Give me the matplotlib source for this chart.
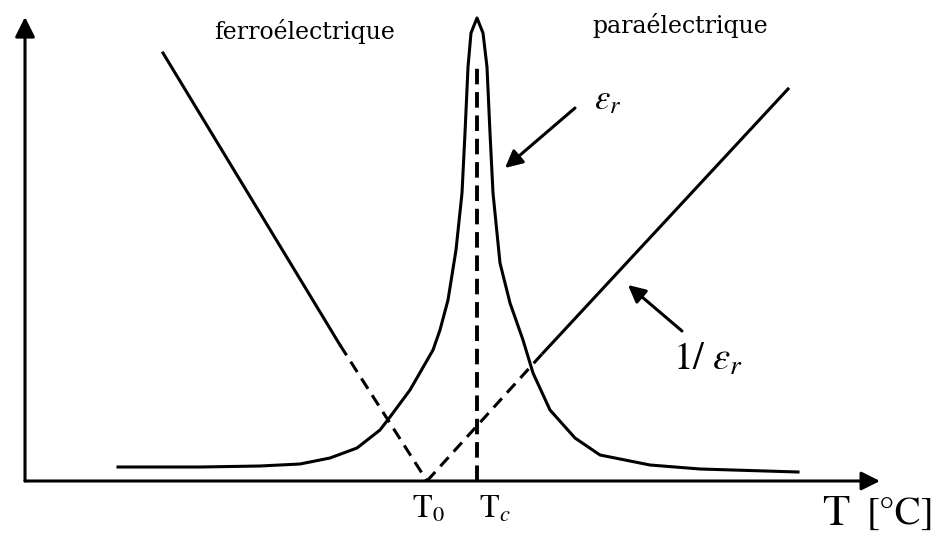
"""
Permittivity of a ferroelectric around the Curie temperature:
eps_r peak at Tc and the Curie-Weiss lines 1/eps_r meeting at T0.
"""
import matplotlib
matplotlib.use('Agg')
import matplotlib.pyplot as plt

plt.rcParams['mathtext.fontset'] = 'stix'

# eps_r curve (arbitrary units), read point by point
T_eps = [9.3, 17.5, 23.5, 27.5, 30.5, 33.2, 35.5, 36.5, 38.5, 40.8, 41.5,
         42.3, 43.1, 43.7, 44.0, 44.3, 44.6, 45.2, 45.8, 46.2, 46.5, 46.8,
         47.5, 48.5, 49.8, 50.8, 52.5, 55.0, 57.5, 62.5, 67.5, 77.3]
eps = [1.4, 1.4, 1.5, 1.7, 2.3, 3.3, 5.1, 6.4, 9.1, 13.1, 15.1,
       18.1, 23.1, 28.8, 34.8, 41.4, 44.8, 46.3, 44.8, 41.4, 34.8, 28.8,
       21.8, 17.8, 14.1, 10.8, 7.1, 4.3, 2.6, 1.6, 1.2, 0.9]

# 1/eps_r branches: solid part, dashed extrapolation down to T0
T_inv_left = [13.8, 31.5]
inv_left = [42.8, 13.6]
T_inv_left_ext = [31.5, 40.2]
inv_left_ext = [13.6, 0.0]

T_inv_right_ext = [40.2, 51.8]
inv_right_ext = [0.0, 12.8]
T_inv_right = [51.8, 76.3]
inv_right = [12.8, 39.2]

T0 = 40.2
Tc = 45.2
Tc_top = 42.0

fig = plt.figure(figsize=(9.48, 5.36), dpi=100)
ax = fig.add_axes([0, 0, 1, 1])
ax.set_xlim(-2.5, 92.3)
ax.set_ylim(-5.5, 48.1)
ax.axis('off')

LW = 2.2
DASH = (4, 2.5)

# axes with arrow heads
ax.annotate("", xy=(85.5, 0), xytext=(0, 0),
            arrowprops=dict(arrowstyle="-|>", color='black', lw=LW,
                            mutation_scale=28, shrinkA=0, shrinkB=0))
ax.annotate("", xy=(0, 46.4), xytext=(0, 0),
            arrowprops=dict(arrowstyle="-|>", color='black', lw=LW,
                            mutation_scale=30, shrinkA=0, shrinkB=0))

# eps_r
ax.plot(T_eps, eps, color='black', lw=LW, solid_joinstyle='round')

# 1/eps_r
ax.plot(T_inv_left, inv_left, color='black', lw=LW)
ax.plot(T_inv_left_ext, inv_left_ext, color='black', lw=LW, dashes=DASH)
ax.plot(T_inv_right, inv_right, color='black', lw=LW)
ax.plot(T_inv_right_ext, inv_right_ext, color='black', lw=LW, dashes=DASH)

# Tc marker
ax.plot([Tc, Tc], [0, Tc_top], color='black', lw=LW + 0.6, dashes=(4, 2))

# pointers to the curves
ax.annotate("", xy=(48.0, 31.3), xytext=(55.0, 37.3),
            arrowprops=dict(arrowstyle="-|>", color='black', lw=LW,
                            mutation_scale=26, shrinkA=0, shrinkB=0))
ax.annotate("", xy=(60.3, 19.6), xytext=(65.7, 15.0),
            arrowprops=dict(arrowstyle="-|>", color='black', lw=LW,
                            mutation_scale=26, shrinkA=0, shrinkB=0))

# labels
ax.text(28.0, 44.2, "ferroélectrique", family='DejaVu Serif', fontsize=17,
        ha='center', va='baseline')
ax.text(65.5, 44.8, "paraélectrique", family='DejaVu Serif', fontsize=17,
        ha='center', va='baseline')
ax.text(56.9, 37.2, r"$\varepsilon_r$", fontsize=25, ha='left', va='baseline')
ax.text(64.8, 11.1, r"$1/\ \varepsilon_r$", fontsize=28, ha='left', va='baseline')
ax.text(38.7, -3.7, r"$\mathrm{T}_0$", fontsize=23, ha='left', va='baseline')
ax.text(45.4, -3.7, r"$\mathrm{T}_c$", fontsize=23, ha='left', va='baseline')
ax.text(79.7, -4.4, "T", family='STIXGeneral', fontsize=32,
        ha='left', va='baseline')
ax.text(84.2, -4.4, "[°C]", family='STIXGeneral', fontsize=28,
        ha='left', va='baseline')

fig.savefig("out.png", dpi=100, facecolor='white')
